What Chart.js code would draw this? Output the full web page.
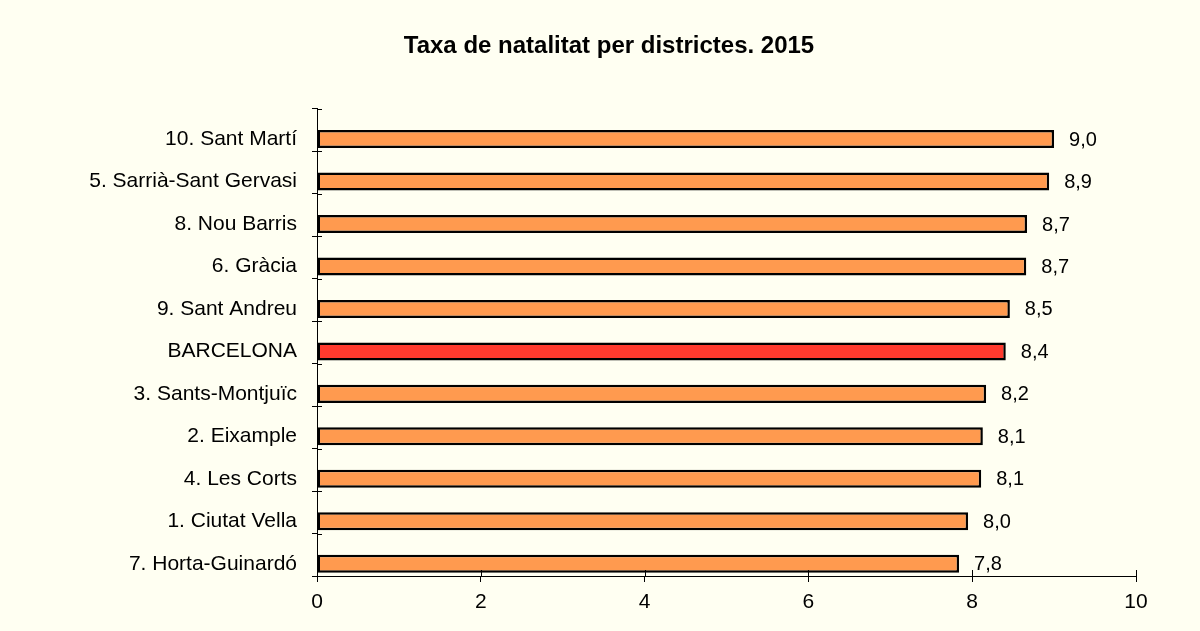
<!DOCTYPE html>
<html>
<head>
<meta charset="utf-8">
<script src="https://cdn.jsdelivr.net/npm/chart.js@4/dist/chart.umd.min.js"></script>
<style>
  body { margin: 0; background: #FFFFF2; }
  #wrap { width: 1200px; height: 631px; }
</style>
</head>
<body>
<div id="wrap"><canvas id="chart" width="1200" height="631"></canvas></div>
<script>
const districts = ['10. Sant Martí', '5. Sarrià-Sant Gervasi', '8. Nou Barris', '6. Gràcia', '9. Sant Andreu',
    'BARCELONA', '3. Sants-Montjuïc', '2. Eixample', '4. Les Corts', '1. Ciutat Vella', '7. Horta-Guinardó'];
const birthRate = [9.00, 8.94, 8.67, 8.66, 8.46, 8.41, 8.17, 8.13, 8.11, 7.95, 7.84];
const xTicks = [0, 2, 4, 6, 8, 10];

const orange = '#FF9A4F';
const red = '#FF3A2E';
const barColours = districts.map(d => d == 'BARCELONA' ? red : orange);
const fontFamily = '"Liberation Sans", Arial, sans-serif';

// short tick marks that cross the axis lines (inside part)
const innerTicks = {
    id: 'innerTicks',
    afterDraw(chart) {
        const ctx = chart.ctx;
        const y = chart.scales.y;
        const x = chart.scales.x;
        ctx.save();
        ctx.strokeStyle = '#000';
        ctx.lineWidth = 1;
        ctx.beginPath();
        const step = (y.bottom - y.top) / districts.length;
        for (let i = 0; i <= districts.length; i++) {
            const py = Math.round(y.top + i * step) + 0.5;
            ctx.moveTo(x.left, py);
            ctx.lineTo(x.left + 5, py);
        }
        xTicks.forEach(v => {
            const px = Math.round(x.getPixelForValue(v)) + 0.5;
            ctx.moveTo(px, y.bottom);
            ctx.lineTo(px, y.bottom - 6);
        });
        ctx.stroke();
        ctx.restore();
    }
};

const valueLabels = {
    id: 'valueLabels',
    afterDatasetsDraw(chart) {
        const ctx = chart.ctx;
        const meta = chart.getDatasetMeta(1);
        ctx.save();
        ctx.font = '20px ' + fontFamily;
        ctx.fillStyle = '#000';
        ctx.textAlign = 'left';
        ctx.textBaseline = 'middle';
        meta.data.forEach((bar, i) => {
            ctx.fillText(birthRate[i].toFixed(1).replace('.', ','), bar.x + 15, bar.y + 1);
        });
        ctx.restore();
    }
};

new Chart('chart', {
    type: 'bar',
    data: {
        labels: districts,
        datasets: [{
            // empty slot so the bars sit in the lower part of each band
            data: districts.map(() => null),
            backgroundColor: 'rgba(0,0,0,0)',
            categoryPercentage: 0.848,
            barPercentage: 1.0
        }, {
            data: birthRate,
            backgroundColor: barColours,
            borderColor: '#000',
            borderWidth: 2.5,
            borderSkipped: false,
            categoryPercentage: 0.848,
            barPercentage: 1.0
        }]
    },
    options: {
        indexAxis: 'y',
        responsive: false,
        animation: false,
        layout: { padding: { left: 82, right: 64, top: 0, bottom: 0 } },
        plugins: {
            legend: { display: false },
            tooltip: { enabled: false },
            title: {
                display: true,
                text: 'Taxa de natalitat per districtes. 2015',
                color: '#000',
                font: { family: fontFamily, size: 24, weight: 'bold' },
                padding: { top: 32, bottom: 48 }
            }
        },
        scales: {
            x: {
                min: 0,
                max: 10,
                afterBuildTicks: s => { s.ticks = xTicks.map(v => ({ value: v })); },
                afterFit: s => { s.height = 55; },
                border: { color: '#000', width: 1 },
                grid: { drawOnChartArea: false, drawTicks: true, tickLength: 6, color: '#000' },
                ticks: {
                    color: '#000',
                    padding: 8,
                    font: { family: fontFamily, size: 21 }
                }
            },
            y: {
                afterFit: s => { s.width = 235; },
                border: { color: '#000', width: 1 },
                grid: { drawOnChartArea: false, drawTicks: true, tickLength: 5, color: '#000', offset: true },
                ticks: {
                    color: '#000',
                    padding: 15,
                    labelOffset: 9,
                    font: { family: fontFamily, size: 21 }
                }
            }
        }
    },
    plugins: [innerTicks, valueLabels]
});
</script>
</body>
</html>
